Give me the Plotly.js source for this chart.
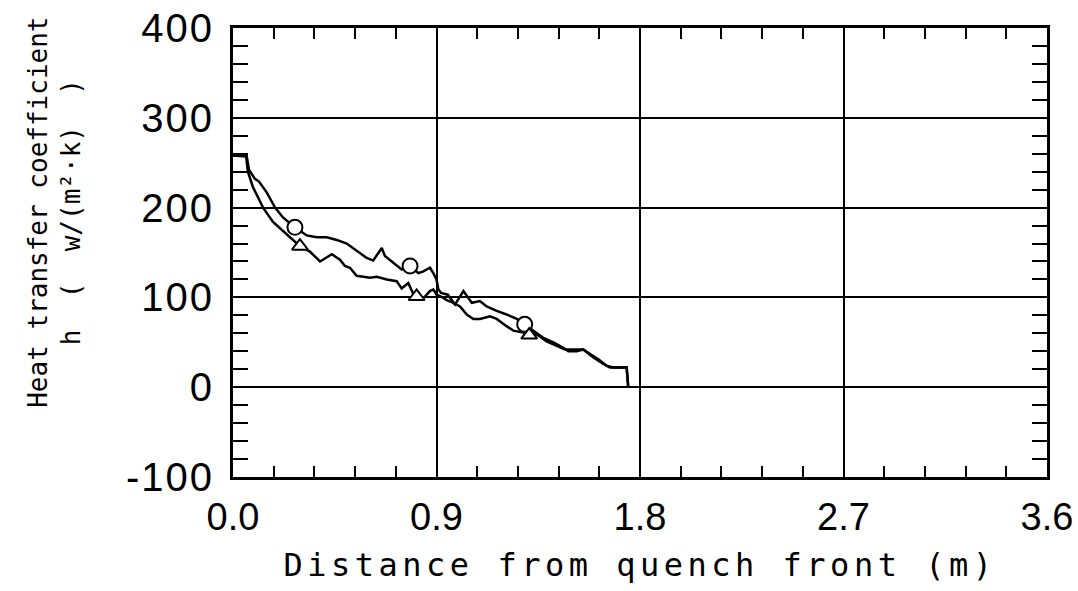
<!DOCTYPE html>
<html>
<head>
<meta charset="utf-8">
<script src="https://cdn.plot.ly/plotly-3.0.1.min.js"></script>
<style>
  html, body { margin: 0; padding: 0; background: #fff; }
  #chart { width: 1078px; height: 591px; }
  #chart g.annotation[data-index="0"] .annotation-text { letter-spacing: 4.5px; }
  #chart g.annotation[data-index="1"] .annotation-text { letter-spacing: 0px; }
  #chart .ytick text { letter-spacing: 2px; }
</style>
</head>
<body>
<div id="chart"></div>
<script>
// Series with circle markers
const circleLineX = [0, 0.06, 0.071, 0.097, 0.115, 0.149, 0.186, 0.221, 0.274, 0.326, 0.37, 0.414, 0.459, 0.503, 0.547, 0.591, 0.62, 0.658, 0.672, 0.709, 0.746, 0.783, 0.82, 0.842, 0.871, 0.886, 0.9, 0.908, 0.92, 0.95, 0.97, 0.982, 1.019, 1.041, 1.056, 1.092, 1.122, 1.166, 1.21, 1.255, 1.29, 1.328, 1.372, 1.417, 1.461, 1.483, 1.52, 1.549, 1.594, 1.638, 1.667, 1.741, 1.748];
const circleLineY = [258, 258, 242, 232, 229, 217, 200, 189, 178, 169, 167, 167, 164, 160, 152, 144, 141, 155, 146, 138, 131, 135, 127, 129, 133, 127, 120, 109, 105, 103, 96, 92, 107, 100, 94, 96, 90, 85, 81, 76, 70, 63, 55, 50, 44, 40, 40, 42, 33, 26, 22, 22, 0];
// Series with triangle markers
const triLineX = [0, 0.058, 0.066, 0.088, 0.133, 0.177, 0.23, 0.296, 0.34, 0.385, 0.437, 0.473, 0.495, 0.517, 0.547, 0.606, 0.636, 0.68, 0.724, 0.746, 0.775, 0.797, 0.812, 0.842, 0.871, 0.886, 0.9, 0.92, 0.945, 0.975, 1.004, 1.034, 1.063, 1.092, 1.137, 1.166, 1.21, 1.24, 1.284, 1.299, 1.343, 1.387, 1.432, 1.468, 1.52, 1.549, 1.579, 1.616, 1.652, 1.681, 1.741, 1.748];
const triLineY = [258, 257, 240, 223, 200, 184, 172, 157, 151, 140, 148, 142, 135, 133, 124, 122, 123, 120, 118, 110, 116, 104, 101, 99, 107, 109, 103, 101, 97, 94, 90, 81, 76, 76, 79, 76, 68, 63, 61, 57, 59, 51, 46, 42, 42, 42, 37, 31, 24, 22, 22, 0];
// Marker positions
const circleMarkX = [0.274, 0.783, 1.29];
const circleMarkY = [178, 135, 70];
const triMarkX = [0.296, 0.812, 1.31];
const triMarkY = [157, 101, 58];
// Ticks
const xTickVals = [0, 0.9, 1.8, 2.7, 3.6];
const xTickText = ['0.0', '0.9', '1.8', '2.7', '3.6'];
const yTickVals = [-100, 0, 100, 200, 300, 400];
const yTickText = ['-100', '0', '100', '200', '300', '400'];
const xTitle = 'Distance from quench front (m)';
const yTitle = 'Heat transfer coefficient<br>h\u00a0\u00a0(\u00a0\u00a0w/(m²·k)\u00a0\u00a0)';

const FONT = 'DejaVu Sans Mono, Liberation Mono, monospace';
const TICKFONT = 'Liberation Sans, Arial, sans-serif';
const lineStyle = {color: '#000', width: 2.5};

const traces = [
  {x: circleLineX, y: circleLineY, mode: 'lines', line: lineStyle, hoverinfo: 'skip'},
  {x: triLineX, y: triLineY, mode: 'lines', line: lineStyle, hoverinfo: 'skip'},
  {x: circleMarkX, y: circleMarkY, mode: 'markers',
   marker: {symbol: 'circle', size: 15, color: '#fff', line: {color: '#000', width: 2}}},
  {x: triMarkX, y: triMarkY, mode: 'markers',
   marker: {symbol: 'triangle-up', size: 14, color: '#fff', line: {color: '#000', width: 2}}}
];

const layout = {
  width: 1078, height: 591,
  margin: {l: 233, r: 31, t: 28, b: 114, pad: 0},
  paper_bgcolor: '#fff', plot_bgcolor: '#fff',
  showlegend: false,
  font: {family: FONT, color: '#000'},
  xaxis: {
    range: [0, 3.6], tickmode: 'array', tickvals: xTickVals, ticktext: xTickText,
    ticks: 'inside', ticklen: 11, tickwidth: 2, tickcolor: '#000',
    showgrid: true, gridcolor: '#000', gridwidth: 2, zeroline: false,
    showline: true, linecolor: '#000', linewidth: 3, mirror: 'allticks',
    minor: {tickmode: 'linear', tick0: 0, dtick: 0.18, ticks: 'inside', ticklen: 11, tickwidth: 2, tickcolor: '#000', showgrid: false},
    tickfont: {family: TICKFONT, size: 38, color: '#000'},
    ticklabelstandoff: 4
  },
  yaxis: {
    range: [-100, 400], tickmode: 'array', tickvals: yTickVals, ticktext: yTickText,
    ticks: 'inside', ticklen: 15, tickwidth: 2, tickcolor: '#000',
    showgrid: true, gridcolor: '#000', gridwidth: 2, zeroline: false,
    showline: true, linecolor: '#000', linewidth: 3, mirror: 'allticks',
    minor: {tickmode: 'linear', tick0: 0, dtick: 20, ticks: 'inside', ticklen: 15, tickwidth: 2, tickcolor: '#000', showgrid: false},
    tickfont: {family: TICKFONT, size: 40, color: '#000'},
    ticklabelstandoff: 8
  },
  annotations: [
    {text: xTitle, xref: 'paper', yref: 'paper', x: 0.5, y: -0.196,
     xanchor: 'center', yanchor: 'middle', showarrow: false,
     font: {family: FONT, size: 32, color: '#000'}},
    {text: yTitle, xref: 'paper', yref: 'paper', x: -0.219, y: 0.59,
     xanchor: 'center', yanchor: 'middle', showarrow: false, textangle: -90,
     font: {family: FONT, size: 26, color: '#000'}}
  ]
};

Plotly.newPlot('chart', traces, layout, {staticPlot: true, displayModeBar: false});
</script>
</body>
</html>
